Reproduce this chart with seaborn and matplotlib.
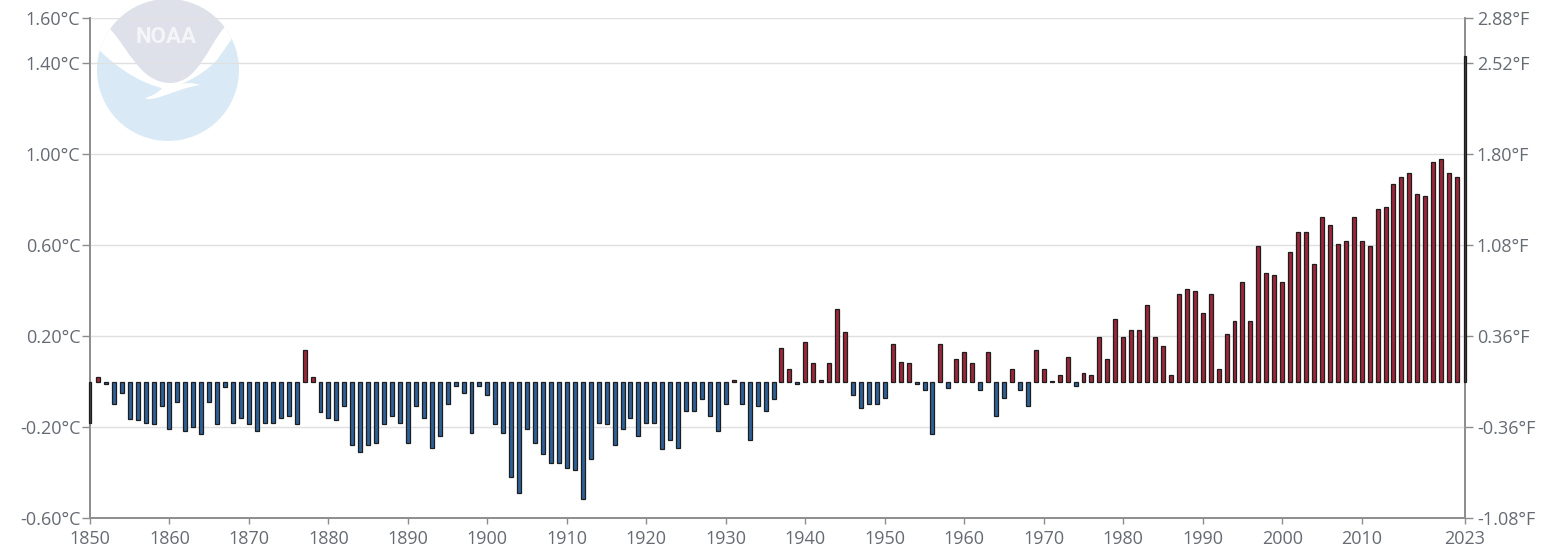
import matplotlib
matplotlib.use("Agg")
import matplotlib.pyplot as plt
import seaborn as sns
import pandas as pd
from matplotlib.patches import Circle, PathPatch
from matplotlib.path import Path

# --- Data ---
years = list(range(1850, 2024))
anomaly_c = [
    -0.18, 0.02, -0.01, -0.10, -0.05, -0.165, -0.17, -0.18, -0.185, -0.105,  # 1850s
    -0.21, -0.09, -0.215, -0.20, -0.23, -0.09, -0.185, -0.025, -0.18, -0.16,  # 1860s
    -0.185, -0.215, -0.18, -0.18, -0.16, -0.15, -0.185, 0.14, 0.02, -0.135,  # 1870s
    -0.16, -0.17, -0.105, -0.277, -0.31, -0.277, -0.27, -0.185, -0.15, -0.18,  # 1880s
    -0.27, -0.105, -0.16, -0.29, -0.24, -0.10, -0.02, -0.05, -0.227, -0.02,  # 1890s
    -0.06, -0.185, -0.227, -0.418, -0.49, -0.21, -0.27, -0.32, -0.356, -0.356,  # 1900s
    -0.38, -0.388, -0.516, -0.34, -0.18, -0.185, -0.277, -0.21, -0.16, -0.24,  # 1910s
    -0.18, -0.18, -0.296, -0.258, -0.29, -0.13, -0.13, -0.076, -0.15, -0.215,  # 1920s
    -0.10, 0.007, -0.10, -0.258, -0.107, -0.13, -0.076, 0.147, 0.056, -0.01,  # 1930s
    0.176, 0.08, 0.007, 0.08, 0.318, 0.22, -0.057, -0.117, -0.10, -0.10,  # 1940s
    -0.07, 0.166, 0.087, 0.08, -0.01, -0.038, -0.229, 0.166, -0.026, 0.098,  # 1950s
    0.129, 0.08, -0.038, 0.129, -0.15, -0.07, 0.056, -0.038, -0.105, 0.14,  # 1960s
    0.056, 0.003, 0.03, 0.11, -0.02, 0.037, 0.03, 0.196, 0.098, 0.276,  # 1970s
    0.196, 0.226, 0.226, 0.336, 0.196, 0.158, 0.03, 0.386, 0.409, 0.397,  # 1980s
    0.30, 0.386, 0.056, 0.208, 0.268, 0.44, 0.268, 0.598, 0.477, 0.47,  # 1990s
    0.44, 0.569, 0.66, 0.66, 0.519, 0.726, 0.69, 0.605, 0.617, 0.726,  # 2000s
    0.617, 0.598, 0.758, 0.77, 0.868, 0.899, 0.916, 0.825, 0.818, 0.965,  # 2010s
    0.978, 0.916, 0.899, 1.435,  # 2020-2023
]
y_ticks_c = [1.60, 1.40, 1.00, 0.60, 0.20, -0.20, -0.60]
y_labels_c = ["1.60°C", "1.40°C", "1.00°C", "0.60°C", "0.20°C", "-0.20°C", "-0.60°C"]
y_labels_f = ["2.88°F", "2.52°F", "1.80°F", "1.08°F", "0.36°F", "-0.36°F", "-1.08°F"]
x_ticks = [1850, 1860, 1870, 1880, 1890, 1900, 1910, 1920, 1930, 1940, 1950,
           1960, 1970, 1980, 1990, 2000, 2010, 2023]

# --- Setup ---
W, H = 1542, 555
TEXT_COLOR = "#666b73"
AXIS_COLOR = "#8c8c8c"
GRID_COLOR = "#e0e0e0"
LABEL_SIZE = 13
PALETTE = {"warm": "#b0142c", "cool": "#1c60aa", "edge": "#444444"}

sns.set_theme(style="white")
plt.rcParams["font.family"] = ["Open Sans", "DejaVu Sans"]

df = pd.DataFrame({"year": years, "anomaly": anomaly_c})
df["kind"] = ["warm" if v > 0 else "cool" for v in df["anomaly"]]
# the first and last bars sit on the axis lines and read as grey
df.loc[df["year"].isin([years[0], years[-1]]), "kind"] = "edge"

fig = plt.figure(figsize=(W / 100, H / 100), dpi=100)
fig.patch.set_facecolor("white")


# --- NOAA logo, behind the chart, in pixel coordinates ---
def draw_logo(fig):
    lx = fig.add_axes([0, 0, 1, 1], zorder=0)
    lx.set_xlim(0, W)
    lx.set_ylim(H, 0)
    lx.axis("off")

    circle = Circle((168, 70), 71, facecolor="#d9eaf6", edgecolor="none")
    lx.add_patch(circle)

    C = Path.CURVE4
    # white band above the water
    white = Path(
        [(90, 40), (100, 51), (117, 67), (140, 84), (166, 89),
         (176, 87), (200, 78), (217, 60), (231, 40), (250, 0), (90, 0), (90, 40)],
        [Path.MOVETO, Path.LINETO, C, C, C, C, C, C, Path.LINETO, Path.LINETO,
         Path.LINETO, Path.CLOSEPOLY],
    )
    p = PathPatch(white, facecolor="white", edgecolor="none")
    lx.add_patch(p)
    p.set_clip_path(circle)

    # grey sky
    sky = Path(
        [(110.7, 30), (127, 46), (140, 83), (170, 83), (198, 83), (208, 46), (224, 28),
         (224, 0), (110, 0), (110.7, 30)],
        [Path.MOVETO, C, C, C, C, C, C, Path.LINETO, Path.LINETO, Path.CLOSEPOLY],
    )
    p = PathPatch(sky, facecolor="#dfe1ea", edgecolor="none")
    lx.add_patch(p)
    p.set_clip_path(circle)

    # gull tail
    tail = Path(
        [(162, 88), (178, 84), (190, 81), (200, 85), (186, 87), (175, 92), (160, 97),
         (153, 99), (148, 100), (145, 98), (152, 96), (158, 93), (162, 88), (162, 88)],
        [Path.MOVETO, C, C, C, C, C, C, C, C, C, C, C, C, Path.CLOSEPOLY],
    )
    lx.add_patch(PathPatch(tail, facecolor="white", edgecolor="none"))

    lx.text(166, 37, "NOAA", color="#f4f5f8", fontsize=16, fontweight="bold",
            family="Roboto", ha="center", va="center")


draw_logo(fig)

# --- Chart ---
ax = fig.add_axes([90 / W, 1 - 518 / H, (1465 - 90) / W, 500 / H], zorder=2)
ax.patch.set_visible(False)

sns.barplot(
    data=df,
    x="year",
    y="anomaly",
    hue="kind",
    palette=PALETTE,
    native_scale=True,
    dodge=False,
    width=0.5,
    edgecolor="#1d1d1d",
    linewidth=0.9,
    legend=False,
    ax=ax,
)
for bar in ax.patches:
    bar.set_clip_on(False)
    bar.set_zorder(3)
    centre = bar.get_x() + bar.get_width() / 2
    if abs(centre - years[0]) < 0.1 or abs(centre - years[-1]) < 0.1:
        # end bars are thinner in the original
        bar.set_width(0.32)
        bar.set_x(centre - 0.16)

ax.set_xlim(1850, 2023)
ax.set_ylim(-0.6, 1.6)
ax.set_xticks(x_ticks)
ax.set_xticklabels(x_ticks)
ax.set_yticks(y_ticks_c)
ax.set_yticklabels(y_labels_c)
ax.set_xlabel("")
ax.set_ylabel("")
ax.set_axisbelow(True)
ax.grid(axis="y", color=GRID_COLOR, linewidth=1)
ax.grid(axis="x", visible=False)
ax.tick_params(axis="x", length=4, width=1, color=AXIS_COLOR, labelcolor=TEXT_COLOR,
               labelsize=LABEL_SIZE, pad=5, bottom=True)
ax.tick_params(axis="y", length=5.5, width=1, color=AXIS_COLOR, labelcolor=TEXT_COLOR,
               labelsize=LABEL_SIZE, pad=1.5, left=True)

ax2 = ax.twinx()
ax2.set_zorder(1)
ax2.set_ylim(ax.get_ylim())
ax2.set_yticks(y_ticks_c)
ax2.set_yticklabels(y_labels_f)
ax2.grid(False)
ax2.tick_params(axis="y", length=5.5, width=1, color=AXIS_COLOR, labelcolor=TEXT_COLOR,
                labelsize=LABEL_SIZE, pad=3, right=True)

for a in [ax, ax2]:
    a.spines["top"].set_visible(False)
    for side in ["left", "right", "bottom"]:
        a.spines[side].set_color(AXIS_COLOR)
        a.spines[side].set_linewidth(1.2)

fig.savefig("out.png", dpi=100)
plt.close(fig)
